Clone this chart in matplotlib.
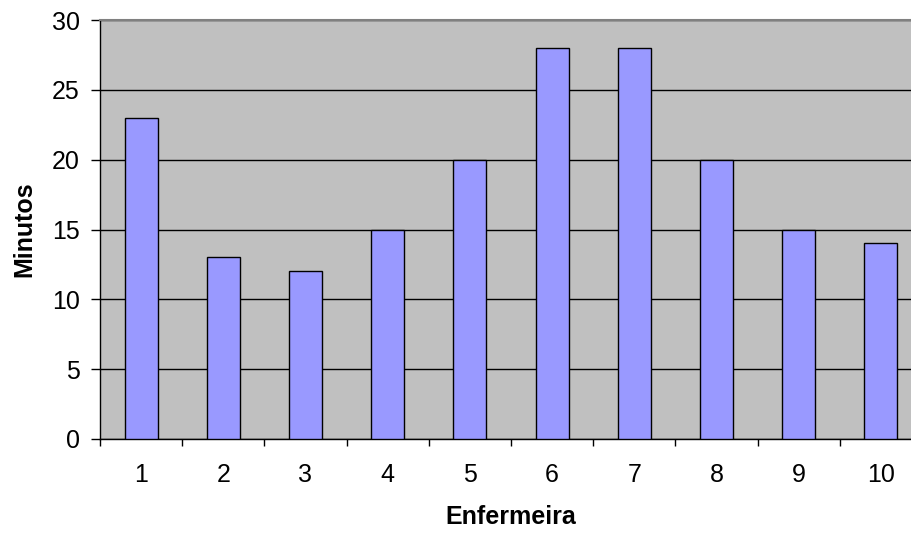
import matplotlib.pyplot as plt
import numpy as np

enfermeiras = ["1", "2", "3", "4", "5", "6", "7", "8", "9", "10"]
minutos = [23, 13, 12, 15, 20, 28, 28, 20, 15, 14]

plt.rcParams['font.family'] = ['Liberation Sans', 'DejaVu Sans']

fig = plt.figure(figsize=(9.12, 5.35), dpi=100)
ax = fig.add_axes([100 / 912, 1 - 439 / 535, 822 / 912, 419 / 535])
ax.set_facecolor('#c0c0c0')

x = np.arange(len(enfermeiras))
ax.bar(x, minutos, width=0.4, color='#9999ff', edgecolor='black', linewidth=1.0, zorder=3)

ax.set_xlim(-0.5, len(enfermeiras) - 0.5)
ax.set_ylim(0, 30)
ax.set_yticks(range(0, 31, 5))
ax.yaxis.grid(True, color='black', linewidth=1.0, zorder=1)
ax.set_axisbelow(True)

# category labels centred, tick marks between categories
ax.set_xticks(x)
ax.set_xticklabels(enfermeiras)
ax.tick_params(axis='x', which='major', length=0, pad=17, labelsize=18)
ax.set_xticks(np.arange(-0.5, len(enfermeiras), 1), minor=True)
ax.tick_params(axis='x', which='minor', length=5, width=1.0, direction='out')
ax.tick_params(axis='y', length=6.5, width=1.0, labelsize=18, pad=8)

ax.spines['top'].set_color('#808080')
ax.spines['top'].set_linewidth(1.5)
ax.spines['right'].set_visible(False)
ax.spines['left'].set_linewidth(1.0)
ax.spines['bottom'].set_linewidth(1.0)

ax.set_xlabel("Enfermeira", fontsize=18, fontweight='bold', labelpad=13.5)
ax.set_ylabel("Minutos", fontsize=18, fontweight='bold', labelpad=11)

plt.savefig("out.png", dpi=100)
